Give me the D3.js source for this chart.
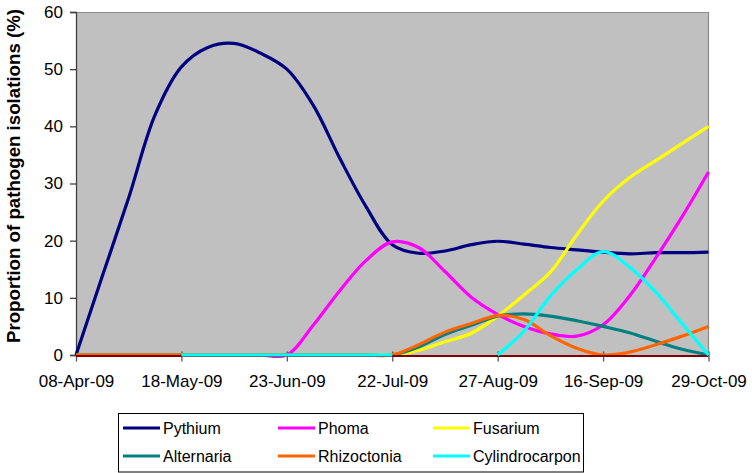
<!DOCTYPE html>
<html>
<head>
<meta charset="utf-8">
<script src="https://cdn.jsdelivr.net/npm/d3@7"></script>
<style>
  html, body { margin: 0; padding: 0; background: #fff; }
  svg { display: block; font-family: "Liberation Sans", Arial, sans-serif; }
</style>
</head>
<body>
<svg id="chart" width="752" height="473"></svg>
<script>
// Sampling dates shown on the axis (one label every fourth sample)
const tickLabels = ["08-Apr-09", "18-May-09", "23-Jun-09", "22-Jul-09", "27-Aug-09", "16-Sep-09", "29-Oct-09"];
const samplesPerLabel = 4;

// Proportion of pathogen isolations (%) per sample; null = not recorded
const pythium        = [0, 13.8, 27.5, 42.0, 50.4, 53.8, 54.5, 52.8, 50.0, 43.7, 34.5, 26.0, 19.3, 17.8, 18.2, 19.3, 19.9, 19.4, 18.8, 18.4, 18.0, 17.7, 17.9, 17.9, 18.0];
const phoma          = [0, 0, 0, 0, 0, 0, 0, 0, 0, 5.2, 11.2, 16.5, 19.8, 18.8, 14.6, 10.1, 7.1, 5.0, 3.7, 3.3, 5.3, 10.3, 17.0, 24.2, 32.0];
const fusarium       = [0, 0, 0, 0, 0, 0, 0, 0, 0, 0, 0, 0, 0, 0.8, 2.3, 3.8, 6.8, 10.5, 14.5, 21.0, 26.9, 31.0, 34.0, 37.0, 40.0];
const alternaria     = [0, 0, 0, 0, 0, 0, 0, 0, 0, 0, 0, 0, 0, 1.4, 3.6, 5.2, 6.8, 7.2, 6.8, 6.0, 5.0, 3.9, 2.4, 1.0, 0];
const rhizoctonia    = [0, 0, 0, 0, 0, 0, 0, 0, 0, 0, 0, 0, 0, 1.8, 4.0, 5.5, 6.9, 6.2, 3.4, 1.2, 0, 0.5, 1.8, 3.3, 5.0];
const cylindrocarpon = [null, null, null, null, 0, 0, 0, 0, 0, 0, 0, 0, 0, null, null, null, 0, 4.2, 10.3, 14.9, 18.1, 15.4, 11.0, 5.5, 0];

const seriesNames  = ["Pythium", "Phoma", "Fusarium", "Alternaria", "Rhizoctonia", "Cylindrocarpon"];
const seriesValues = [pythium, phoma, fusarium, alternaria, rhizoctonia, cylindrocarpon];
const seriesColors = ["#000080", "#ff00ff", "#ffff00", "#008080", "#ff6600", "#00ffff"];

const yTicks = [0, 10, 20, 30, 40, 50, 60];

const svg = d3.select("#chart");
const plot = { left: 76, right: 708.5, top: 12, bottom: 355 };

const sampleIdx = d3.range(pythium.length);
const x = d3.scalePoint().domain(sampleIdx).range([plot.left, plot.right]);
const y = d3.scaleLinear().domain([0, 60]).range([plot.bottom, plot.top]);

// Plot background
svg.append("rect")
  .attr("x", plot.left).attr("y", plot.top)
  .attr("width", plot.right - plot.left).attr("height", plot.bottom - plot.top)
  .attr("fill", "#c0c0c0");

// Top and right frame
svg.append("path")
  .attr("d", `M${plot.left},${plot.top + 0.5}H${plot.right}V${plot.bottom}`)
  .attr("fill", "none").attr("stroke", "#8c8c8c").attr("stroke-width", 1.2);

// Y axis
const yAxis = d3.axisLeft(y).tickValues(yTicks).tickSize(6).tickPadding(7).tickFormat(d3.format("d"));
const gy = svg.append("g").attr("transform", `translate(${plot.left},0)`).call(yAxis);
gy.select(".domain").attr("stroke", "#404040").attr("stroke-width", 1.3);
gy.selectAll(".tick line").attr("stroke", "#404040").attr("stroke-width", 1.3);
gy.selectAll(".tick text").attr("font-size", 17).attr("fill", "#000")
  .attr("font-family", "'Liberation Sans', Arial, sans-serif");

// X axis labels and cross tick marks
const labelIdx = tickLabels.map((_, i) => i * samplesPerLabel);
const xAxis = d3.axisBottom(x).tickValues(labelIdx).tickSize(0).tickPadding(0)
  .tickFormat((d) => tickLabels[d / samplesPerLabel]);
const gx = svg.append("g").attr("transform", `translate(0,${plot.bottom})`).call(xAxis);
gx.select(".domain").remove();
gx.selectAll(".tick line").remove();
gx.selectAll(".tick").append("line")
  .attr("y1", -3.5).attr("y2", 6.5)
  .attr("stroke", "#555").attr("stroke-width", 1.3);
gx.selectAll(".tick text").attr("font-size", 17).attr("fill", "#000")
  .attr("dy", 0).attr("y", 32)
  .attr("font-family", "'Liberation Sans', Arial, sans-serif");

// Y axis title
svg.append("text")
  .attr("transform", `translate(20,176) rotate(-90)`)
  .attr("text-anchor", "middle")
  .attr("font-size", 17.5).attr("font-weight", "bold")
  .attr("textLength", 334).attr("lengthAdjust", "spacingAndGlyphs")
  .text("Proportion of pathogen isolations (%)");

// Series lines, smoothed
const line = d3.line()
  .defined((d) => d != null)
  .x((d, i) => x(i))
  .y((d) => y(d))
  .curve(d3.curveCatmullRom.alpha(0.5));

const gLines = svg.append("g");
seriesValues.forEach((vals, k) => {
  if (k === seriesValues.length - 1) {
    // zero baseline sits under the last series
    gLines.append("line")
      .attr("x1", plot.left).attr("x2", plot.right)
      .attr("y1", y(0) + 1).attr("y2", y(0) + 1)
      .attr("stroke", "#800000").attr("stroke-width", 2);
  }
  gLines.append("path")
    .datum(vals)
    .attr("d", line)
    .attr("fill", "none")
    .attr("stroke", seriesColors[k])
    .attr("stroke-width", 3.2)
    .attr("stroke-linejoin", "round");
});

// Legend
const legend = svg.append("g");
legend.append("rect")
  .attr("x", 118.5).attr("y", 413.5).attr("width", 465).attr("height", 58.5)
  .attr("fill", "#fff").attr("stroke", "#000").attr("stroke-width", 1);
const colX = [123, 278, 433];
const rowY = [428, 456];
seriesNames.forEach((name, k) => {
  const cx = colX[k % 3], cy = rowY[Math.floor(k / 3)];
  legend.append("line")
    .attr("x1", cx).attr("x2", cx + 37).attr("y1", cy).attr("y2", cy)
    .attr("stroke", seriesColors[k]).attr("stroke-width", 3.2);
  legend.append("text")
    .attr("x", cx + 40).attr("y", cy).attr("dy", "0.36em")
    .attr("font-size", 16).text(name);
});
</script>
</body>
</html>
